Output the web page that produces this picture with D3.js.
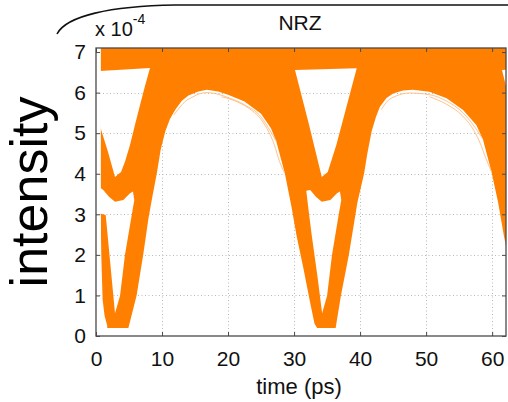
<!DOCTYPE html>
<html>
<head>
<meta charset="utf-8">
<script src="https://cdn.jsdelivr.net/npm/d3@7"></script>
<style>
  body { margin: 0; background: #fff; }
  svg { display: block; }
</style>
</head>
<body>
<svg id="chart" width="508" height="402"></svg>
<script>
// ---- axis ticks ----
const xTicks = [0, 10, 20, 30, 40, 50, 60];
const yTicks = [0, 1, 2, 3, 4, 5, 6, 7];
const xGrid = [10, 20, 30, 40, 50, 60];
const yGrid = [1, 2, 3, 4, 5, 6];

// ---- overlaid NRZ traces (intensity in units of 1e-4, time in ps) ----
// time window covered by the recorded traces
const traceStart = 0.7;
const traceEnd = 62.2;
const traceCeil = 7.3;

// open (trace-free) areas inside the trace envelope, [time, intensity]
const openFloor = [[-1, -1], [64, -1], [64, 0.2], [-1, 0.2]];
const openEye0 = [[-1, -1], [-1, 2.95], [0.71, 2.95], [0.8, 2.0], [1.0, 0.9], [1.3, 0.5], [1.7, 0.25], [1.7, -1]];
const openA1 = [[0.6, 6.53], [8.18, 6.61], [7.4, 6.15], [6.66, 5.69], [5.9, 5.2], [5.15, 4.71], [4.4, 4.3], [3.79, 4.04], [2.88, 3.92], [1.8, 4.55], [0.6, 5.18]];
const openB1 = [[0.6, 3.66], [1.1, 3.6], [1.97, 3.43], [2.88, 3.31], [4.14, 3.35], [5.15, 3.52], [5.6, 3.56], [5.8, 3.35], [5.41, 2.98], [4.39, 2.0], [3.64, 0.99], [2.88, 0.56], [2.39, 1.4], [1.78, 2.45], [1.47, 2.98], [0.6, 3.02]];
const openEye1 = [[4.9, -1], [4.9, 0.2], [5.3, 0.45], [6.15, 1.0], [7.15, 2.0], [7.95, 2.9], [8.5, 3.4], [9.2, 4.0], [9.8, 4.6], [10.5, 5.05], [11.2, 5.35], [12.0, 5.58], [13.0, 5.8], [14.0, 5.93], [15.5, 6.03], [16.8, 6.07], [18.5, 6.03], [20.0, 5.95], [22.5, 5.78], [25.0, 5.48], [26.5, 5.12], [27.3, 4.8], [28.6, 4.01], [29.6, 3.19], [30.4, 2.45], [31.4, 1.68], [32.4, 0.85], [33.1, 0.3], [33.5, 0.2], [33.5, -1]];
const openA2 = [[30.14, 6.56], [32.2, 5.25], [34.2, 3.92], [35.1, 4.04], [36.4, 4.71], [38.0, 5.69], [39.49, 6.6]];
const openB2 = [[31.85, 3.58], [32.45, 3.6], [33.3, 3.43], [34.2, 3.31], [35.5, 3.35], [36.5, 3.52], [36.95, 3.56], [37.15, 3.35], [36.75, 2.98], [35.75, 2.0], [35.0, 0.99], [34.25, 0.56], [33.6, 1.4], [32.67, 2.49], [32.2, 3.1]];
const openEye2 = [[36.3, -1], [36.3, 0.2], [36.5, 0.4], [37.1, 1.0], [38.3, 2.0], [38.9, 2.6], [39.6, 3.3], [40.6, 4.0], [41.1, 4.5], [41.75, 5.05], [42.4, 5.4], [43.0, 5.65], [44.0, 5.87], [45.0, 5.98], [46.5, 6.05], [48.0, 6.07], [50.5, 6.02], [53.1, 5.86], [55.6, 5.57], [57.6, 5.2], [58.6, 4.85], [59.9, 4.05], [60.9, 3.3], [61.8, 2.45], [62.6, 1.8], [62.6, -1]];
const openA3 = [[61.49, 6.56], [66, 6.6], [65.55, 3.92]];
const openings = [openFloor, openEye0, openA1, openB1, openEye1, openA2, openB2, openEye2, openA3];

// sparse outlier traces just inside the upper eye edge
const strayTraces = [
  [[11.8, 5.45], [12.6, 5.62], [13.5, 5.78], [14.5, 5.88], [15.5, 5.96], [16.8, 6.0], [18.5, 5.96], [20.0, 5.88], [22.5, 5.7], [25.0, 5.4], [26.4, 5.05], [27.3, 4.8]],
  [[19.0, 5.9], [21.0, 5.8], [23.0, 5.63], [25.0, 5.34], [26.2, 5.02], [27.0, 4.72], [27.8, 4.3], [28.6, 4.01]],
  [[43.2, 5.58], [44.2, 5.8], [45.5, 5.92], [47.5, 5.99], [50.5, 5.95], [53.1, 5.79], [55.6, 5.5], [57.5, 5.12], [58.6, 4.85]],
  [[50.5, 5.9], [53.0, 5.72], [55.5, 5.43], [57.3, 5.05], [58.2, 4.75], [59.0, 4.4], [59.9, 4.05]]
];

// ---- layout ----
const svg = d3.select("#chart");
const plot = { left: 96, right: 506, top: 48, bottom: 336 };
const x = d3.scaleLinear().domain([0, 62.1]).range([plot.left, plot.right]);
const y = d3.scaleLinear().domain([0, 7.1]).range([plot.bottom, plot.top]);
const FONT = "'Liberation Sans', Arial, Helvetica, sans-serif";
const ORANGE = "#ff7f00";
const AXIS = "#4a4a4a";

const defs = svg.append("defs");
defs.append("clipPath").attr("id", "plotClip")
  .append("rect")
  .attr("x", plot.left).attr("y", plot.top)
  .attr("width", plot.right - plot.left).attr("height", plot.bottom - plot.top);

const poly = d3.line().x(d => x(d[0])).y(d => y(d[1]));

// mask: trace envelope minus open areas
const mask = defs.append("mask").attr("id", "traceMask").attr("maskUnits", "userSpaceOnUse")
  .attr("x", 0).attr("y", 0).attr("width", 508).attr("height", 402);
mask.append("rect")
  .attr("x", x(traceStart)).attr("y", y(traceCeil))
  .attr("width", x(traceEnd) - x(traceStart)).attr("height", y(0) - y(traceCeil))
  .attr("fill", "#fff");
mask.selectAll("path.open").data(openings).join("path")
  .attr("class", "open")
  .attr("d", d => poly(d) + "Z")
  .attr("fill", "#000");

// grid
const grid = svg.append("g").attr("stroke", "#b9b9b9").attr("stroke-width", 1)
  .attr("stroke-dasharray", "1,2.5");
grid.selectAll("line.gx").data(xGrid).join("line").attr("class", "gx")
  .attr("x1", d => Math.round(x(d)) + 0.5).attr("x2", d => Math.round(x(d)) + 0.5)
  .attr("y1", plot.top).attr("y2", plot.bottom);
grid.selectAll("line.gy").data(yGrid).join("line").attr("class", "gy")
  .attr("x1", plot.left).attr("x2", plot.right)
  .attr("y1", d => Math.round(y(d)) + 0.5).attr("y2", d => Math.round(y(d)) + 0.5);

// traces
const traces = svg.append("g").attr("clip-path", "url(#plotClip)");
traces.append("rect")
  .attr("x", x(traceStart)).attr("y", y(traceCeil))
  .attr("width", x(traceEnd) - x(traceStart)).attr("height", y(0) - y(traceCeil))
  .attr("fill", ORANGE)
  .attr("mask", "url(#traceMask)");
traces.selectAll("path.stray").data(strayTraces).join("path")
  .attr("class", "stray")
  .attr("d", d3.line().curve(d3.curveMonotoneX).x(d => x(d[0])).y(d => y(d[1])))
  .attr("fill", "none").attr("stroke", "#ffbb80").attr("stroke-width", 0.9);

// axes box and inward ticks
function styleAxis(g) {
  g.select(".domain").remove();
  g.selectAll(".tick line").attr("stroke", AXIS).attr("stroke-width", 1);
  g.selectAll("text").attr("font-family", FONT).attr("font-size", 21).attr("fill", "#111");
}
svg.append("g").attr("transform", `translate(0,${plot.bottom})`)
  .call(d3.axisBottom(x).tickValues(xTicks).tickSize(-4).tickPadding(15.5).tickFormat(d3.format("d")))
  .call(styleAxis);
svg.append("g").attr("transform", `translate(${plot.left},0)`)
  .call(d3.axisLeft(y).tickValues(yTicks).tickSize(-4).tickPadding(10).tickFormat(d3.format("d")))
  .call(styleAxis);
svg.append("g").attr("transform", `translate(${plot.right},0)`)
  .call(d3.axisRight(y).tickValues(yTicks).tickSize(-4).tickFormat(""))
  .call(styleAxis);
svg.append("g").attr("transform", `translate(0,${plot.top})`)
  .call(d3.axisTop(x).tickValues(xTicks).tickSize(-4).tickFormat(""))
  .call(styleAxis);
svg.append("rect")
  .attr("x", plot.left).attr("y", plot.top)
  .attr("width", plot.right - plot.left).attr("height", plot.bottom - plot.top)
  .attr("fill", "none").attr("stroke", AXIS).attr("stroke-width", 1.3);

// labels
svg.append("text").attr("x", 299).attr("y", 394)
  .attr("text-anchor", "middle").attr("font-family", FONT).attr("font-size", 22).attr("fill", "#111")
  .text("time (ps)");
svg.append("text")
  .attr("transform", `translate(47,${(plot.top + plot.bottom) / 2}) rotate(-90)`)
  .attr("text-anchor", "middle").attr("font-family", FONT).attr("font-size", 52).attr("fill", "#000")
  .text("intensity");
svg.append("text").attr("x", 300).attr("y", 30)
  .attr("text-anchor", "middle").attr("font-family", FONT).attr("font-size", 21).attr("fill", "#111")
  .text("NRZ");
const expo = svg.append("text").attr("x", 95).attr("y", 36)
  .attr("font-family", FONT).attr("font-size", 20).attr("fill", "#111");
expo.append("tspan").text("x 10");
expo.append("tspan").attr("font-size", 14).attr("dy", -12).text("-4");

// bracket line over the title
svg.append("path")
  .attr("d", "M57,34 C66,16 110,6 175,5 L508,5")
  .attr("fill", "none").attr("stroke", "#111").attr("stroke-width", 1.6);
</script>
</body>
</html>
